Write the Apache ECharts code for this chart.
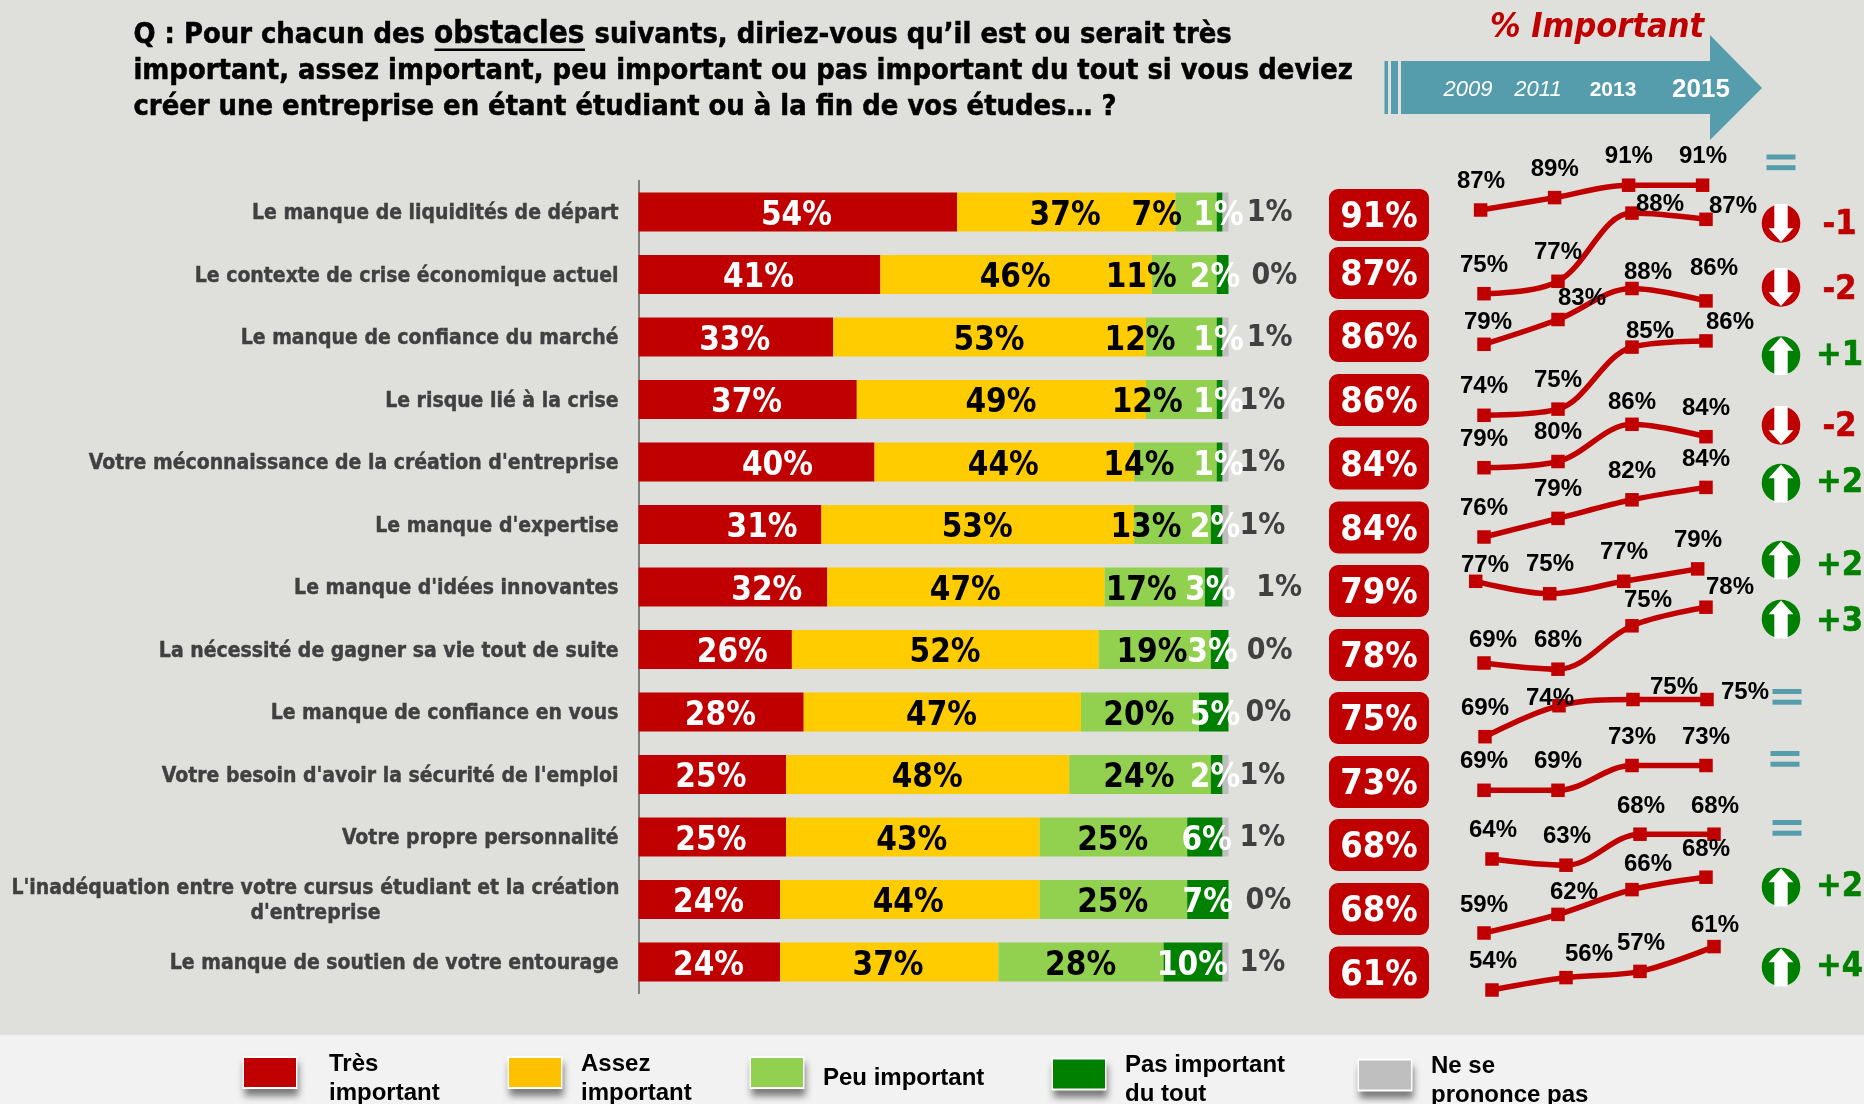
<!DOCTYPE html>
<html><head><meta charset="utf-8">
<style>html,body{margin:0;padding:0;background:#DFE0DB}#c{width:1864px;height:1104px}</style>
<script src="https://cdn.jsdelivr.net/npm/echarts@6/dist/echarts.min.js"></script>
</head><body><div id="c"></div>
<script>
// ---- data ----
const categories = [
 "Le manque de liquidités de départ","Le contexte de crise économique actuel","Le manque de confiance du marché",
 "Le risque lié à la crise","Votre méconnaissance de la création d'entreprise","Le manque d'expertise",
 "Le manque d'idées innovantes","La nécessité de gagner sa vie tout de suite","Le manque de confiance en vous",
 "Votre besoin d'avoir la sécurité de l'emploi","Votre propre personnalité",
 "L'inadéquation entre votre cursus étudiant et la création\nd'entreprise","Le manque de soutien de votre entourage"];
const seriesNames = ["Très important","Assez important","Peu important","Pas important du tout","Ne se prononce pas"];
const tresImportant = [54,41,33,37,40,31,32,26,28,25,25,24,24];
const assezImportant = [37,46,53,49,44,53,47,52,47,48,43,44,37];
const peuImportant = [7,11,12,12,14,13,17,19,20,24,25,25,28];
const pasImportant = [1,2,1,1,1,2,3,3,5,2,6,7,10];
const nsp = [1,0,1,1,1,1,1,0,0,1,1,0,1];
const totalImportant = [91,87,86,86,84,84,79,78,75,73,68,68,61];
const years = ["2009","2011","2013","2015"];
const trend2009 = [87,75,79,74,79,76,77,69,69,69,64,59,54];
const trend2011 = [89,77,83,75,80,79,75,68,74,69,63,62,56];
const trend2013 = [91,88,88,85,86,82,77,75,75,73,68,66,57];
const trend2015 = [91,87,86,86,84,84,79,78,75,73,68,68,61];
const deltas = ["=","-1","-2","+1","-2","+2","+2","+3","=","=","=","+2","+4"];
const titleParts = ["Q : Pour chacun des","obstacles","suivants, diriez-vous qu’il est ou serait très",
 "important, assez important, peu important ou pas important du tout si vous deviez",
 "créer une entreprise en étant étudiant ou à la fin de vos études… ?"];
const legendLines = ["Très\nimportant","Assez\nimportant","Peu important","Pas important\ndu tout","Ne se\nprononce pas"];

// ---- layout (pixels, not data) ----
const S = 1864/1568;
const C = {bg:'#DFE0DB',red:'#C00000',yellow:'#FFCC00',lgreen:'#92D050',green:'#008000',grey:'#BFBFBF',teal:'#559CAC'};
const FB = '"DejaVu Sans Condensed","DejaVu Sans"';
const gridLeft = 638.5, gridWidth = 590;
// horizontal centre of each bar label (reference display px)
const labelX = [
 [670,638,618,628,654,641,645,616,606,598,598,596,596],
 [896,854,832,842,844,822,812,795,792,780,767,764,747],
 [973,960,959,965,958,964,960,969,958,958,936,936,909],
 [1025,1022,1025,1025,1025,1022,1018,1020,1022,1022,1015,1016,1003],
 [1068,1072,1068,1062,1062,1062,1076,1068,1067,1062,1062,1067,1062]];
const labelDy = [4,4,4,4,1.5];
const labelSize = [33,33,33,33,30];
const badgeY = [215,273,336,400,463.5,527.5,591,655,718,782,845,909,972.5];
const sparkX0 = [1480.6,1484,1484,1484,1484,1484,1475.7,1484,1485,1484,1492,1484,1492];
const sparkY0 = [210,293.7,344.3,415.3,467.7,537,581.3,663,736.7,790.3,859,933,990];
const sparkStep = 74, pxPerPt = 6.2, sparkMin = 40, sparkMax = 100;
const sparkLabelPos = [
 [[1481,180],[1554.7,167.7],[1628.8,155],[1703,155]],
 [[1484,264],[1558,250.7],[1660,202.7],[1733,205]],
 [[1488,321],[1582,296.7],[1648,270.7],[1714,267]],
 [[1484,385],[1558,379],[1650,330],[1730,321]],
 [[1484,438],[1558,431],[1632,401],[1706,407]],
 [[1484,507],[1558,488],[1632,470],[1706,458]],
 [[1485,564],[1550,563],[1624,551],[1698,539]],
 [[1493,639],[1558,639],[1648,599],[1730,586]],
 [[1485,707],[1550,697],[1674,686],[1745,691]],
 [[1484,760],[1558,760],[1632,736],[1706,736]],
 [[1493,829],[1567,835],[1641,805],[1715,805]],
 [[1484,904],[1574,891],[1648,863],[1706,848]],
 [[1493,960],[1589,953],[1641,942],[1715,924]]];
const iconY = [162.5,223.5,287.5,355.5,425.5,483,560,619,697,759,828,887,967];
const iconX = [1781,1781,1781,1781,1781,1781,1781,1781,1787,1785,1787,1781,1781];
const deltaTextY = [0,224,289,355,426,482,565,621,0,0,0,886,966];
const legendPos = [[244,1040.5],[509,1040.5],[751,1055],[1053,1042],[1359,1043]];
const legendPadLeft = [28,15,15,15,15];
const swatchY = [1072.5,1072.5,1072.5,1074,1075];
const swatchColors = [C.red,'#FFC000',C.lgreen,C.green,C.grey];

// ---- series ----
const barSets = [tresImportant,assezImportant,peuImportant,pasImportant,nsp];
const barColors = [C.red,C.yellow,C.lgreen,C.green,C.grey];
const labelColors = ['#fff','#000','#000','#fff','#404040'];
const series = [];
const cum = categories.map(()=>0);
barSets.forEach((vals,si)=>{
  series.push({
    type:'bar',name:seriesNames[si],stack:'t',xAxisIndex:0,yAxisIndex:0,barWidth:39,
    itemStyle:{color:barColors[si]},
    data:vals.map((v,i)=>{
      const centre = gridLeft + (cum[i]+v/2)*gridWidth/100;
      cum[i]+=v;
      return {value:v,label:{offset:[labelX[si][i]*S-centre,labelDy[si]]}};
    }),
    label:{show:true,position:'inside',formatter:p=>p.value+'%',color:labelColors[si],
      fontFamily:FB,fontWeight:'bold',fontSize:labelSize[si]}
  });
});
const grids=[{left:gridLeft,width:gridWidth,top:180.75,height:812.5,outerBoundsMode:'none'}];
const xAxes=[{type:'value',min:0,max:100,show:false,gridIndex:0}];
const yAxes=[{type:'category',inverse:true,data:categories,gridIndex:0,
  axisTick:{show:false},axisLine:{show:true,lineStyle:{color:'#808080',width:2}},
  axisLabel:{margin:20,fontFamily:FB,fontWeight:'bold',fontSize:21,color:'#404040',align:'right',padding:[3.5,0,0,0],
    textBorderColor:'#404040',textBorderWidth:0.4,
    formatter:v=>v.includes('\n')?v.split('\n').map(l=>'{c|'+l+'}').join('\n'):v,
    rich:{c:{width:606,align:'center',lineHeight:25,fontFamily:FB,fontWeight:'bold',fontSize:21,color:'#404040',textBorderColor:'#404040',textBorderWidth:0.4}}}}];
categories.forEach((c,i)=>{
  const vals=[trend2009[i],trend2011[i],trend2013[i],trend2015[i]];
  const g=i+1;
  grids.push({left:sparkX0[i],width:sparkStep*3,top:sparkY0[i]-(sparkMax-vals[0])*pxPerPt,height:(sparkMax-sparkMin)*pxPerPt,outerBoundsMode:'none'});
  xAxes.push({type:'category',data:years,boundaryGap:false,show:false,gridIndex:g});
  yAxes.push({type:'value',min:sparkMin,max:sparkMax,show:false,gridIndex:g});
  series.push({type:'line',xAxisIndex:g,yAxisIndex:g,smooth:0.35,symbol:'rect',symbolSize:13.5,
    lineStyle:{color:C.red,width:5.5},itemStyle:{color:C.red},
    data:vals.map((v,k)=>({value:v,label:{offset:[
      sparkLabelPos[i][k][0]-(sparkX0[i]+k*sparkStep),
      sparkLabelPos[i][k][1]-(sparkY0[i]-(v-vals[0])*pxPerPt)+1.5]}})),
    label:{show:true,position:'inside',formatter:p=>p.value+'%',color:'#000',
      fontFamily:'"Liberation Sans"',fontWeight:'bold',fontSize:24}});
});

// ---- graphic furniture ----
const gfx=[];
gfx.push({type:'rect',z:0,shape:{x:0,y:1035,width:1864,height:69},style:{fill:'#F2F2F2'}});
legendPos.forEach((p,i)=>{
  gfx.push({type:'rect',z:1,shape:{x:p[0]-1.5,y:swatchY[i]-16.5,width:55,height:33},
    style:{fill:'#fff',shadowColor:'rgba(0,0,0,.5)',shadowBlur:7,shadowOffsetY:7,shadowOffsetX:1}});
  gfx.push({type:'rect',z:2,shape:{x:p[0],y:swatchY[i]-14.5,width:52,height:29},style:{fill:swatchColors[i]}});
});
const titleFont='bold 28.8px '+FB;
const titleItems=[[0,133.5,35.5,titleFont],[1,434,34.5,'bold 31.2px '+FB],[2,594.5,35.5,titleFont],[3,133.5,72,titleFont],[4,133.5,107.5,titleFont]];
titleItems.forEach(t=>gfx.push({type:'text',z:100,style:{text:titleParts[t[0]],x:t[1],y:t[2],fill:'#000',stroke:'#000',lineWidth:0.5,
  font:t[3],align:'left',verticalAlign:'middle'}}));
gfx.push({type:'rect',z:100,shape:{x:434.5,y:48.5,width:150.5,height:2.5},style:{fill:'#000'}});
// arrow banner
gfx.push({type:'rect',z:100,shape:{x:1384.5,y:61,width:3.5,height:53},style:{fill:C.teal}});
gfx.push({type:'rect',z:100,shape:{x:1391,y:61,width:7,height:53},style:{fill:C.teal}});
gfx.push({type:'polygon',z:100,shape:{points:[[1401,61],[1710,61],[1710,35],[1762,88],[1710,140],[1710,114],[1401,114]]},style:{fill:C.teal}});
gfx.push({type:'text',z:101,style:{text:'% Important',x:1597,y:28,fill:C.red,font:'italic bold 34px '+FB,align:'center',verticalAlign:'middle'}});
const yearFonts=['italic 22px "Liberation Sans"','italic 22px "Liberation Sans"','bold 21px "Liberation Sans"','bold 26px "Liberation Sans"'];
const yearX=[1468,1538,1613,1701];
years.forEach((y,i)=>gfx.push({type:'text',z:101,style:{text:y,x:yearX[i],y:90,fill:'#fff',font:yearFonts[i],align:'center',verticalAlign:'middle'}}));
// badges
totalImportant.forEach((v,i)=>{
  gfx.push({type:'rect',z:100,shape:{x:1329,y:badgeY[i]-26,width:100,height:52,r:9},style:{fill:C.red}});
  gfx.push({type:'text',z:101,style:{text:v+'%',x:1379,y:badgeY[i]+3,fill:'#fff',font:'bold 36px '+FB,align:'center',verticalAlign:'middle'}});
});
// deltas
deltas.forEach((d,i)=>{
  const cx=iconX[i],cy=iconY[i];
  if(d==='='){
    gfx.push({type:'rect',z:100,shape:{x:cx-14.5,y:cy-8,width:29,height:5},style:{fill:C.teal}});
    gfx.push({type:'rect',z:100,shape:{x:cx-14.5,y:cy+2.7,width:29,height:5},style:{fill:C.teal}});
    return;
  }
  const up=d[0]==='+', col=up?C.green:C.red, s=up?-1:1;
  gfx.push({type:'circle',z:100,shape:{cx,cy,r:19.3},style:{fill:col}});
  gfx.push({type:'polygon',z:101,shape:{points:[[cx-6.7,cy-19.5*s],[cx+6.7,cy-19.5*s],[cx+6.7,cy+4.7*s],[cx+12.4,cy+4.7*s],[cx,cy+18.5*s],[cx-12.4,cy+4.7*s],[cx-6.7,cy+4.7*s]]},style:{fill:'#fff'}});
  gfx.push({type:'text',z:101,style:{text:d,x:1839.5,y:deltaTextY[i]+1,fill:col,stroke:col,lineWidth:0.6,font:'bold 34px '+FB,align:'center',verticalAlign:'middle'}});
});

const legends=seriesNames.map((n,i)=>({
  data:[{name:n,itemStyle:{color:'rgba(0,0,0,0)',borderWidth:0}}],
  left:legendPos[i][0],top:legendPos[i][1],padding:0,itemWidth:52,itemHeight:29,icon:'rect',selectedMode:false,
  formatter:()=>legendLines[i],
  textStyle:{fontFamily:'"Liberation Sans"',fontWeight:'bold',fontSize:24,lineHeight:29,color:'#000',padding:[18,0,0,legendPadLeft[i]]}
}));

const chart=echarts.init(document.getElementById('c'),null,{width:1864,height:1104,renderer:'canvas'});
chart.setOption({animation:false,backgroundColor:C.bg,grid:grids,xAxis:xAxes,yAxis:yAxes,series,legend:legends,graphic:{elements:gfx}});
</script></body></html>
